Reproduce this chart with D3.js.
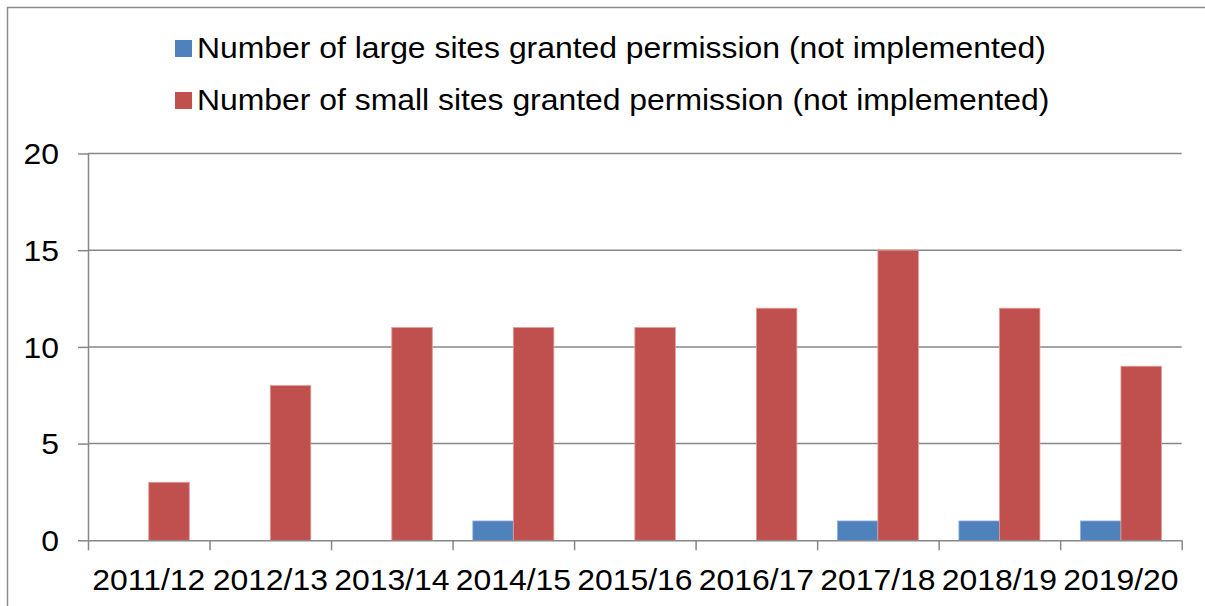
<!DOCTYPE html>
<html><head><meta charset="utf-8">
<script src="https://cdn.jsdelivr.net/npm/d3@7/dist/d3.min.js"></script>
<style>body{margin:0;background:#fff}svg{display:block}text{font-family:"Liberation Sans",Arial,sans-serif;fill:#000}</style>
</head><body>
<svg id="c" width="1205" height="606"></svg>
<script>
const categories = ["2011/12","2012/13","2013/14","2014/15","2015/16","2016/17","2017/18","2018/19","2019/20"];
const largeSites = [0,0,0,1,0,0,1,1,1];
const smallSites = [3,8,11,11,11,12,15,12,9];
const seriesNames = ["Number of large sites granted permission (not implemented)","Number of small sites granted permission (not implemented)"];
const colors = ["#4F81BD","#C0504D"];
const yTicks = [0,5,10,15,20];

const svg = d3.select("#c");
const L = 88, R = 1181.7, T = 153.5, B = 540.3;
const SX = 1.1, FS = 29;
const grid = "#878787";

svg.append("rect").attr("x",7.5).attr("y",7.5).attr("width",1300).attr("height",700)
  .attr("fill","none").attr("stroke","#8c8c8c").attr("stroke-width",1.5);

const x = d3.scaleBand().domain(categories).range([L,R]).paddingInner(0).paddingOuter(0);
const bw = x.bandwidth()/3;
const y = d3.scaleLinear().domain([0,20]).range([B,T]);

// gridlines
svg.append("g").selectAll("line").data(yTicks.filter(d=>d>0)).join("line")
  .attr("x1",L).attr("x2",R).attr("y1",d=>y(d)).attr("y2",d=>y(d))
  .attr("stroke",grid).attr("stroke-width",1.5);

// bars
const series = [largeSites, smallSites];
series.forEach((vals,si)=>{
  svg.append("g").selectAll("rect").data(vals.map((v,i)=>({c:categories[i],v}))).join("rect")
    .filter(d=>d.v>0)
    .attr("x",d=>x(d.c)+bw/2+si*bw).attr("width",bw)
    .attr("y",d=>y(d.v)).attr("height",d=>y(0)-y(d.v))
    .attr("fill",colors[si]).attr("stroke",si===0?"#8fb0dc":"#e29b98").attr("stroke-width",0.8);
});

// y axis
const ya = svg.append("g").attr("transform",`translate(${L},0)`)
  .call(d3.axisLeft(y).tickValues(yTicks).tickSize(10).tickPadding(0));
ya.select(".domain").attr("stroke",grid).attr("stroke-width",1.5).attr("d",`M0.5,${T}V${B}`);
ya.selectAll(".tick line").attr("stroke",grid).attr("stroke-width",1.5);
ya.selectAll(".tick text").attr("x",-29/SX).attr("dy","0.35em")
  .attr("transform",`scale(${SX},1)`).style("font-size",FS+"px").style("font-family",'"Liberation Sans",Arial,sans-serif').attr("fill","#000");

// x axis
const xb = d3.scaleLinear().domain([0,categories.length]).range([L,R]);
const xa = svg.append("g").attr("transform",`translate(0,${B})`)
  .call(d3.axisBottom(xb).tickValues(d3.range(categories.length+1)).tickSize(10).tickFormat(""));
xa.select(".domain").attr("stroke",grid).attr("stroke-width",1.5).attr("d",`M${L},0.5H${R}`);
xa.selectAll(".tick line").attr("stroke",grid).attr("stroke-width",1.5);
const xl = svg.append("g").attr("transform",`translate(0,${B})`)
  .call(d3.axisBottom(x).tickSize(0).tickPadding(0));
xl.select(".domain").remove();
xl.selectAll(".tick text").attr("y",49.7).attr("dy","0").attr("transform",`scale(${SX},1)`)
  .style("font-size",FS+"px").style("font-family",'"Liberation Sans",Arial,sans-serif').attr("fill","#000");

// legend
const lg = svg.append("g");
seriesNames.forEach((n,i)=>{
  const yy = 40 + i*52;
  lg.append("rect").attr("x",175).attr("y",yy).attr("width",17).attr("height",17).attr("fill",colors[i]);
  lg.append("text").attr("transform",`translate(197,${yy+18}) scale(${SX},1)`)
    .style("font-size",FS+"px").text(n);
});
</script>
</body></html>
